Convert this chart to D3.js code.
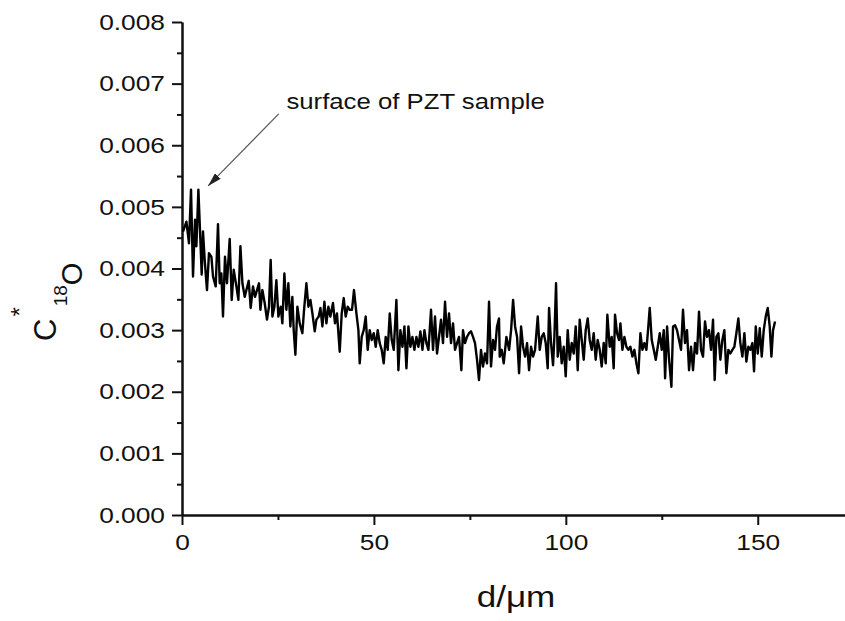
<!DOCTYPE html>
<html>
<head>
<meta charset="utf-8">
<script src="https://cdn.jsdelivr.net/npm/d3@7"></script>
<style>
  html, body { margin: 0; padding: 0; background: #fff; }
</style>
</head>
<body>
<div id="chart"></div>
<script>
// depth profile: d in µm, C* of 18O
const depth = [
  0.26, 1.15, 1.82, 2.35, 2.87, 3.39, 3.75, 4.27, 4.79, 5.13, 5.47, 5.91, 6.51, 7.03, 7.66, 8.08,
  8.78, 9.38, 9.82, 10.26, 10.68, 11.20, 11.72, 12.43, 12.95, 13.47, 14.17, 14.69, 15.22, 15.74,
  16.34, 16.78, 17.38, 17.90, 18.50, 19.02, 19.54, 20.06, 20.42, 20.94, 21.54, 22.14, 22.66, 23.10,
  23.55, 24.07, 24.59, 25.11, 25.71, 26.15, 26.67, 27.19, 27.71, 28.23, 28.75, 29.10, 29.54, 30.06,
  30.67, 31.36, 31.80, 32.41, 32.93, 33.46, 33.98, 34.58, 35.02, 35.62, 36.06, 36.58, 37.10, 37.62,
  38.14, 38.66, 39.34, 39.86, 40.38, 41.09, 41.61, 42.13, 42.65, 43.17, 43.69, 44.29, 44.81, 45.44,
  45.96, 46.30, 46.82, 47.34, 47.86, 48.38, 48.90, 49.43, 49.95, 50.47, 50.99, 51.51, 52.03, 52.55,
  53.07, 53.60, 54.12, 54.64, 55.16, 55.86, 56.38, 56.90, 57.43, 57.95, 58.47, 58.99, 59.51, 60.03,
  60.55, 61.07, 61.59, 62.11, 62.64, 63.16, 63.68, 64.20, 64.88, 65.40, 65.92, 66.44, 66.96, 67.48,
  68.00, 68.53, 69.05, 69.57, 70.09, 70.61, 71.13, 71.65, 72.17, 72.78, 73.21, 73.73, 74.25, 74.78,
  75.30, 75.82, 76.34, 76.86, 77.38, 77.90, 78.42, 78.94, 79.47, 79.99, 80.51, 81.03, 81.55, 82.07,
  82.59, 82.78, 83.30, 83.82, 84.52, 85.22, 85.74, 86.26, 86.78, 87.30, 87.82, 88.34, 88.86, 89.38,
  89.90, 90.42, 90.94, 91.46, 91.98, 92.68, 93.20, 93.72, 94.24, 94.76, 95.28, 95.63, 96.15, 96.67,
  97.02, 97.45, 97.89, 98.41, 98.93, 99.45, 99.97, 100.49, 101.01, 101.53, 102.05, 102.57, 103.10,
  103.62, 104.14, 104.66, 105.18, 105.70, 106.22, 106.74, 107.26, 107.78, 108.30, 108.83, 109.35,
  109.87, 110.39, 110.82, 111.43, 111.95, 112.47, 112.82, 113.34, 113.86, 114.22, 114.74, 115.26,
  115.78, 116.30, 116.82, 117.34, 117.86, 118.39, 118.91, 119.43, 119.95, 120.47, 120.99, 121.42,
  121.86, 122.38, 122.91, 123.43, 123.95, 124.47, 124.99, 125.51, 125.86, 126.38, 126.90, 127.51,
  127.93, 128.45, 128.97, 129.49, 130.01, 130.53, 131.05, 131.57, 132.10, 132.62, 133.14, 133.66,
  134.18, 134.70, 135.22, 135.74, 136.26, 136.78, 137.30, 137.83, 138.35, 138.78, 139.22, 139.74,
  140.26, 140.78, 141.30, 141.83, 142.35, 142.87, 143.39, 143.91, 144.43, 144.95, 145.47, 146.00,
  146.52, 147.04, 147.56, 148.08, 148.60, 149.04, 149.48, 150.00, 150.52, 151.04, 151.56, 152.08,
  152.60, 153.12, 153.56, 153.99, 154.51
];
const conc = [
  0.00460, 0.00476, 0.00441, 0.00528, 0.00387, 0.00479, 0.00436, 0.00528, 0.00446, 0.00390, 0.00460, 0.00414, 0.00365, 0.00425, 0.00419, 0.00387,
  0.00371, 0.00472, 0.00376, 0.00392, 0.00322, 0.00419, 0.00376, 0.00448, 0.00349, 0.00398, 0.00371, 0.00349, 0.00436, 0.00376,
  0.00354, 0.00365, 0.00380, 0.00336, 0.00371, 0.00354, 0.00365, 0.00376, 0.00333, 0.00365, 0.00344, 0.00317, 0.00338, 0.00414,
  0.00322, 0.00338, 0.00381, 0.00322, 0.00338, 0.00311, 0.00392, 0.00333, 0.00376, 0.00306, 0.00354, 0.00300, 0.00260, 0.00338,
  0.00311, 0.00295, 0.00333, 0.00376, 0.00338, 0.00349, 0.00327, 0.00298, 0.00317, 0.00322, 0.00336, 0.00306, 0.00346, 0.00311,
  0.00338, 0.00322, 0.00344, 0.00311, 0.00327, 0.00265, 0.00327, 0.00352, 0.00322, 0.00338, 0.00333, 0.00333, 0.00365, 0.00327,
  0.00300, 0.00246, 0.00289, 0.00300, 0.00322, 0.00268, 0.00300, 0.00284, 0.00295, 0.00273, 0.00300, 0.00279, 0.00268, 0.00246,
  0.00289, 0.00268, 0.00327, 0.00284, 0.00268, 0.00349, 0.00235, 0.00300, 0.00273, 0.00306, 0.00238, 0.00306, 0.00273, 0.00289,
  0.00268, 0.00289, 0.00273, 0.00298, 0.00268, 0.00300, 0.00279, 0.00268, 0.00333, 0.00268, 0.00322, 0.00262, 0.00289, 0.00317,
  0.00279, 0.00346, 0.00289, 0.00327, 0.00279, 0.00311, 0.00268, 0.00279, 0.00289, 0.00235, 0.00300, 0.00279, 0.00289, 0.00295,
  0.00298, 0.00289, 0.00279, 0.00252, 0.00219, 0.00268, 0.00241, 0.00262, 0.00246, 0.00346, 0.00241, 0.00284, 0.00268, 0.00306,
  0.00319, 0.00257, 0.00268, 0.00246, 0.00289, 0.00268, 0.00300, 0.00349, 0.00306, 0.00289, 0.00230, 0.00306, 0.00273, 0.00257,
  0.00279, 0.00235, 0.00273, 0.00257, 0.00268, 0.00322, 0.00268, 0.00289, 0.00295, 0.00279, 0.00238, 0.00336, 0.00279, 0.00243,
  0.00289, 0.00376, 0.00257, 0.00289, 0.00246, 0.00273, 0.00225, 0.00300, 0.00252, 0.00279, 0.00262, 0.00306, 0.00235,
  0.00317, 0.00284, 0.00252, 0.00300, 0.00319, 0.00284, 0.00268, 0.00295, 0.00252, 0.00284, 0.00268, 0.00241,
  0.00279, 0.00246, 0.00325, 0.00273, 0.00289, 0.00238, 0.00325, 0.00295, 0.00284, 0.00311, 0.00268, 0.00289,
  0.00273, 0.00268, 0.00273, 0.00257, 0.00268, 0.00246, 0.00230, 0.00295, 0.00268, 0.00279, 0.00268, 0.00300,
  0.00336, 0.00284, 0.00268, 0.00252, 0.00273, 0.00295, 0.00268, 0.00300, 0.00222, 0.00306, 0.00252, 0.00208,
  0.00306, 0.00308, 0.00300, 0.00284, 0.00268, 0.00333, 0.00279, 0.00300, 0.00235, 0.00273, 0.00235, 0.00279,
  0.00262, 0.00330, 0.00268, 0.00257, 0.00314, 0.00289, 0.00300, 0.00268, 0.00317, 0.00219, 0.00289, 0.00295,
  0.00252, 0.00284, 0.00300, 0.00230, 0.00268, 0.00262, 0.00268, 0.00273, 0.00295, 0.00319, 0.00279, 0.00257,
  0.00295, 0.00249, 0.00273, 0.00268, 0.00279, 0.00233, 0.00306, 0.00262, 0.00303, 0.00257, 0.00300, 0.00322,
  0.00336, 0.00306, 0.00257, 0.00300, 0.00314
];

const xTicks = [0, 50, 100, 150];
const xMinor = [25, 75, 125, 175];
const yTicks = [0, 0.001, 0.002, 0.003, 0.004, 0.005, 0.006, 0.007, 0.008];
const yMinor = [0.0005, 0.0015, 0.0025, 0.0035, 0.0045, 0.0055, 0.0065, 0.0075];
const noteText = "surface of PZT sample";
const noteTip = [6.8, 0.00534];   // arrow head, data coords
const noteTail = [25.2, 0.00651];
const noteAnchor = [27.2, 0.00659];

const width = 845, height = 621;
const font = "'Liberation Sans', Arial, sans-serif";
const sx = 1.17;   // the original figure is stretched sideways a little

const svg = d3.select("#chart").append("svg")
    .attr("width", width).attr("height", height)
    .style("display", "block")
    .style("font-family", font);

const x = d3.scaleLinear().domain([0, 175]).range([182, 853.7]);
const y = d3.scaleLinear().domain([0, 0.008]).range([515, 22]);

// minor ticks
svg.append("g").attr("transform", `translate(0,${y(0)})`)
    .call(d3.axisBottom(x).tickValues(xMinor).tickSize(5).tickSizeOuter(0).tickFormat(""));
svg.append("g").attr("transform", `translate(${x(0)},0)`)
    .call(d3.axisLeft(y).tickValues(yMinor).tickSize(5).tickSizeOuter(0).tickFormat(""));

// major ticks + labels
const gx = svg.append("g").attr("transform", `translate(0,${y(0)})`)
    .call(d3.axisBottom(x).tickValues(xTicks).tickSize(10).tickSizeOuter(0).tickPadding(9));
const gy = svg.append("g").attr("transform", `translate(${x(0)},0)`)
    .call(d3.axisLeft(y).tickValues(yTicks).tickSize(10).tickSizeOuter(0).tickPadding(7)
        .tickFormat(d3.format(".3f")));

svg.selectAll(".domain, .tick line").attr("stroke", "#111").attr("stroke-width", 2);
gx.selectAll("text").style("font-size", "22.5px").attr("fill", "#111")
    .attr("transform", `scale(${sx},1)`);
gy.selectAll("text").style("font-size", "22.5px").attr("fill", "#111")
    .attr("x", -17 / sx).attr("transform", `scale(${sx},1)`);

// axis titles
svg.append("text")
    .attr("transform", `translate(516,607) scale(${sx},1)`)
    .attr("text-anchor", "middle")
    .style("font-size", "30px").attr("fill", "#111")
    .text("d/\u03bcm");

const yt = svg.append("text")
    .attr("transform", "translate(56,341) rotate(-90)")
    .attr("fill", "#111");
yt.append("tspan").style("font-size", "31px").text("C");
yt.append("tspan").style("font-size", "24px").attr("dy", -28).attr("dx", 2).text("*");
yt.append("tspan").style("font-size", "19px").attr("dy", 39).attr("dx", 1).text("18");
yt.append("tspan").style("font-size", "29px").attr("dy", 15).text("O");

// data line
const line = d3.line().x(d => x(d[0])).y(d => y(d[1]));
svg.append("path")
    .datum(d3.zip(depth, conc))
    .attr("d", line)
    .attr("fill", "none")
    .attr("stroke", "#000")
    .attr("stroke-width", 2.4)
    .attr("stroke-linejoin", "round");

// annotation with arrow
svg.append("defs").append("marker")
    .attr("id", "head")
    .attr("viewBox", "0 0 14 8")
    .attr("refX", 14).attr("refY", 4)
    .attr("markerWidth", 14).attr("markerHeight", 8)
    .attr("markerUnits", "userSpaceOnUse")
    .attr("orient", "auto")
  .append("path")
    .attr("d", "M0,0 L14,4 L0,8 Z")
    .attr("fill", "#222");

svg.append("line")
    .attr("x1", x(noteTail[0])).attr("y1", y(noteTail[1]))
    .attr("x2", x(noteTip[0])).attr("y2", y(noteTip[1]))
    .attr("stroke", "#555").attr("stroke-width", 1.2)
    .attr("marker-end", "url(#head)");

svg.append("text")
    .attr("transform", `translate(${x(noteAnchor[0])},${y(noteAnchor[1])}) scale(${sx},1)`)
    .style("font-size", "22px").attr("fill", "#111")
    .text(noteText);
</script>
</body>
</html>
